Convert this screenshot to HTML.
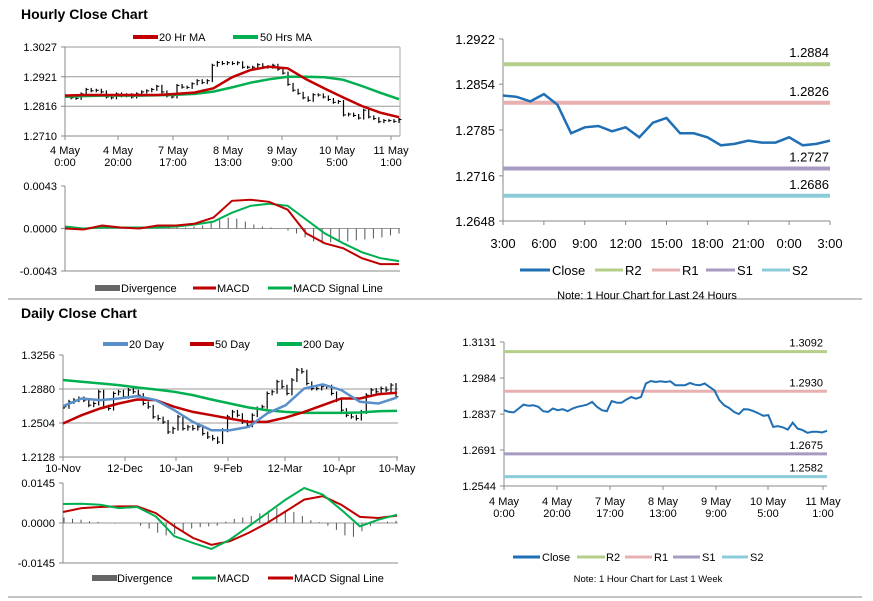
<!DOCTYPE html>
<html><head><meta charset="utf-8"><style>
html,body{margin:0;padding:0;background:#fff;}
svg{display:block;font-family:"Liberation Sans",Arial,sans-serif;}
.t{font-size:11px;fill:#000;}
.r{font-size:13px;fill:#000;}
</style></head><body>
<svg id="c" width="873" height="601" viewBox="0 0 873 601">
<rect x="0" y="0" width="873" height="601" fill="#fff"/>
<line x1="8" y1="299" x2="862" y2="299" stroke="#888" stroke-width="1"/>
<line x1="8" y1="597" x2="862" y2="597" stroke="#888" stroke-width="1"/>
<text x="21" y="19" font-size="14" font-weight="bold">Hourly Close Chart</text>
<text x="21" y="318" font-size="14" font-weight="bold">Daily Close Chart</text>

<g>
<line x1="133" y1="37" x2="158" y2="37" stroke="#c00000" stroke-width="4"/><text class="t" x="159" y="41">20 Hr MA</text>
<line x1="233" y1="37" x2="258" y2="37" stroke="#00b050" stroke-width="4"/><text class="t" x="260" y="41">50 Hrs MA</text>
</g>
<g>
<rect x="95" y="285" width="25" height="6" fill="#666"/><text class="t" x="121" y="292">Divergence</text>
<line x1="193" y1="288" x2="216" y2="288" stroke="#c00000" stroke-width="3"/><text class="t" x="217" y="292">MACD</text>
<line x1="268" y1="288" x2="292" y2="288" stroke="#00b050" stroke-width="3"/><text class="t" x="293" y="292">MACD Signal Line</text>
</g>
<g>
<line x1="103" y1="344" x2="128" y2="344" stroke="#5b8fc9" stroke-width="4"/><text class="t" x="129" y="348">20 Day</text>
<line x1="190" y1="344" x2="214" y2="344" stroke="#c00000" stroke-width="4"/><text class="t" x="215" y="348">50 Day</text>
<line x1="277" y1="344" x2="302" y2="344" stroke="#00b050" stroke-width="4"/><text class="t" x="303" y="348">200 Day</text>
</g>
<g>
<rect x="92" y="575" width="25" height="6" fill="#666"/><text class="t" x="117" y="582">Divergence</text>
<line x1="192" y1="578" x2="216" y2="578" stroke="#00b050" stroke-width="3"/><text class="t" x="217" y="582">MACD</text>
<line x1="268" y1="578" x2="293" y2="578" stroke="#c00000" stroke-width="3"/><text class="t" x="294" y="582">MACD Signal Line</text>
</g>
<g>
<line x1="520" y1="270" x2="550" y2="270" stroke="#1f6fb5" stroke-width="3"/><text class="r" x="552" y="275">Close</text>
<line x1="595" y1="270" x2="623" y2="270" stroke="#b5cf8a" stroke-width="3"/><text class="r" x="625" y="275">R2</text>
<line x1="652" y1="270" x2="680" y2="270" stroke="#e8b0b0" stroke-width="3"/><text class="r" x="682" y="275">R1</text>
<line x1="706" y1="270" x2="735" y2="270" stroke="#a89bc2" stroke-width="3"/><text class="r" x="737" y="275">S1</text>
<line x1="762" y1="270" x2="790" y2="270" stroke="#8ccbd8" stroke-width="3"/><text class="r" x="792" y="275">S2</text>
<text x="647" y="299" font-size="11" text-anchor="middle">Note: 1 Hour Chart for Last 24 Hours</text>
</g>
<g>
<line x1="513" y1="557" x2="540" y2="557" stroke="#1f6fb5" stroke-width="3"/><text class="t" x="542" y="561">Close</text>
<line x1="577" y1="557" x2="605" y2="557" stroke="#b5cf8a" stroke-width="3"/><text class="t" x="606" y="561">R2</text>
<line x1="625" y1="557" x2="652" y2="557" stroke="#e8b0b0" stroke-width="3"/><text class="t" x="654" y="561">R1</text>
<line x1="673" y1="557" x2="700" y2="557" stroke="#a89bc2" stroke-width="3"/><text class="t" x="702" y="561">S1</text>
<line x1="722" y1="557" x2="748" y2="557" stroke="#8ccbd8" stroke-width="3"/><text class="t" x="750" y="561">S2</text>
<text x="648" y="582" font-size="9.5" text-anchor="middle">Note: 1 Hour Chart for  Last 1 Week</text>
</g>
</svg>
<script>
// ---- data ----
const weekClose=[1.2853,1.2846,1.2844,1.2860,1.2876,1.2871,1.2873,1.2867,1.2849,1.2846,1.2860,1.2853,1.2857,1.2849,1.2860,1.2867,1.2871,1.2876,1.2887,1.2867,1.2853,1.2849,1.2890,1.2884,1.2883,1.2896,1.2907,1.2900,1.2907,1.2962,1.2972,1.2968,1.2971,1.2968,1.2971,1.2955,1.2955,1.2955,1.2964,1.2957,1.2955,1.2962,1.2948,1.2934,1.2894,1.2873,1.2862,1.2846,1.2837,1.2857,1.2856,1.2849,1.2840,1.2830,1.2833,1.2785,1.2788,1.2783,1.2774,1.2802,1.2778,1.2772,1.2761,1.2765,1.2765,1.2762,1.2769];
const hrMA20=[1.2854,1.2856,1.2856,1.2856,1.2856,1.2856,1.2860,1.2865,1.2880,1.2919,1.2945,1.2957,1.2951,1.2912,1.2879,1.2847,1.2817,1.2793,1.2777];
const hrMA50=[1.2850,1.2852,1.2854,1.2854,1.2854,1.2855,1.2857,1.2860,1.2868,1.2883,1.2900,1.2912,1.2921,1.2921,1.2919,1.2910,1.2888,1.2864,1.2841];
const hrMACD=[0,-0.0001,0.0003,0.0001,0,0.0003,0.0003,0.0005,0.0011,0.0028,0.0029,0.0027,0.0019,-0.0005,-0.0015,-0.0020,-0.0030,-0.0036,-0.0036];
const hrSignal=[0.0002,0,0.0001,0.0001,0.0001,0.0001,0.0002,0.0004,0.0007,0.0016,0.0023,0.0025,0.0023,0.0009,-0.0005,-0.0015,-0.0024,-0.0030,-0.0033];
const hrDiv=[0.0001,0,0.0001,0,0,0.0001,0.0001,0,0,0,0,0,0.0001,0.0001,0.0001,0.0002,0.0003,0.0006,0.0009,0.0011,0.0010,0.0007,0.0004,0.0002,0.0001,0,-0.0002,-0.0005,-0.0009,-0.0013,-0.0015,-0.0014,-0.0013,-0.0013,-0.0012,-0.0011,-0.0010,-0.0009,-0.0007,-0.0005];
const hrPriceTicks=["1.3027","1.2921","1.2816","1.2710"];
const hrMacdTicks=["0.0043","0.0000","-0.0043"];
const hrXLabels=[["4 May","0:00"],["4 May","20:00"],["7 May","17:00"],["8 May","13:00"],["9 May","9:00"],["10 May","5:00"],["11 May","1:00"]];
const dayClose=[1.2683,1.2738,1.2757,1.2775,1.2757,1.2701,1.2720,1.2849,1.2683,1.2664,1.2831,1.2849,1.2794,1.2868,1.2849,1.2812,1.2720,1.2683,1.2572,1.2553,1.2516,1.2405,1.2442,1.2572,1.2442,1.2461,1.2442,1.2461,1.2387,1.2350,1.2331,1.2294,1.2424,1.2572,1.2627,1.2590,1.2516,1.2479,1.2590,1.2664,1.2683,1.2831,1.2849,1.2960,1.2905,1.2831,1.2979,1.3090,1.3071,1.2942,1.2886,1.2886,1.2905,1.2905,1.2831,1.2757,1.2646,1.2590,1.2572,1.2553,1.2627,1.2812,1.2868,1.2849,1.2886,1.2868,1.2923,1.2794];
const dayMA20=[1.2690,1.2775,1.2757,1.2775,1.2801,1.2757,1.2646,1.2516,1.2424,1.2424,1.2461,1.2609,1.2701,1.2886,1.2931,1.2868,1.2738,1.2720,1.2786];
const dayMA50=[1.2498,1.2590,1.2664,1.2720,1.2764,1.2757,1.2683,1.2627,1.2590,1.2553,1.2516,1.2516,1.2564,1.2627,1.2701,1.2775,1.2775,1.2823,1.2838];
const dayMA200=[1.2979,1.2960,1.2942,1.2923,1.2897,1.2875,1.2849,1.2812,1.2764,1.2720,1.2675,1.2646,1.2627,1.2616,1.2616,1.2616,1.2620,1.2635,1.2638];
const dayMACD=[0.0069,0.0070,0.0066,0.0054,0.0058,0.0024,-0.0048,-0.0072,-0.0094,-0.0060,-0.0012,0.0036,0.0085,0.0127,0.0103,0.0048,-0.0012,0.0012,0.0030];
const daySignal=[0.0040,0.0054,0.0058,0.0060,0.0060,0.0036,-0.0012,-0.0054,-0.0079,-0.0066,-0.0036,0,0.0042,0.0085,0.0097,0.0066,0.0022,0.0018,0.0027];
const dayDiv=[0.0020,0.0015,0.0012,0.0006,0.0004,0.0001,-0.0002,0,0,-0.0010,-0.0020,-0.0035,-0.0045,-0.0040,-0.0030,-0.0020,-0.0015,-0.0012,-0.0010,0.0005,0.0015,0.0020,0.0025,0.0035,0.0045,0.0055,0.0045,0.0040,0.0025,0.0010,0.0003,-0.0010,-0.0025,-0.0045,-0.0050,-0.0030,-0.0010,0.0002,0.0005,0.0008];
const dayPriceTicks=["1.3256","1.2880","1.2504","1.2128"];
const dayMacdTicks=["0.0145","0.0000","-0.0145"];
const dayXLabels=["10-Nov","12-Dec","10-Jan","9-Feb","12-Mar","10-Apr","10-May"];
const dClose=[1.2837,1.2835,1.2828,1.2839,1.2823,1.2780,1.2789,1.2791,1.2783,1.2789,1.2774,1.2796,1.2803,1.2780,1.2780,1.2774,1.2762,1.2764,1.2769,1.2766,1.2766,1.2774,1.2762,1.2764,1.2769];
const dLevels=[1.2884,1.2826,1.2727,1.2686];
const dLevelNames=["r2","r1","s1","s2"];
const dTicks=["1.2922","1.2854","1.2785","1.2716","1.2648"];
const dXLabels=["3:00","6:00","9:00","12:00","15:00","18:00","21:00","0:00","3:00"];
const wLevels=[1.3092,1.2930,1.2675,1.2582];
const wTicks=["1.3131","1.2984","1.2837","1.2691","1.2544"];
const levelColors=["#b5cf8a","#e8b0b0","#a89bc2","#8ccbd8"];

// ---- helpers ----
const svg=document.getElementById('c');
const NS="http://www.w3.org/2000/svg";
function el(tag,attrs,parent){const e=document.createElementNS(NS,tag);for(const k in attrs)e.setAttribute(k,attrs[k]);(parent||svg).appendChild(e);return e;}
function lin(d0,d1,r0,r1){return v=>r0+(v-d0)*(r1-r0)/(d1-d0);}
function path(arr,x,y){return arr.map((v,i)=>(i?'L':'M')+x(i).toFixed(1)+','+y(v).toFixed(1)).join('');}
function txt(x,y,s,anchor,cls,parent){const t=el('text',{x:x,y:y,'text-anchor':anchor||'start','class':cls||'t'},parent);t.textContent=s;return t;}

// ===== Hourly price panel =====
(function(){
 const g=el('g',{});
 
 
 const L=65,R=400,y=lin(1.2710,1.3027,136,47);
 hrPriceTicks.forEach((t,i)=>{const v=parseFloat(t);
  const ln=el('line',{x1:L,x2:R,y1:y(v),y2:y(v),stroke:i==3?'#888':'#999','stroke-width':1},g);
  
  
  el('line',{x1:L-4,x2:L,y1:y(v),y2:y(v),stroke:'#888'},g);
  const tx=txt(L-8,y(v)+4,t,'end','t',g);
  
  });
 el('line',{x1:L,x2:L,y1:47,y2:136,stroke:'#888'},g);
 el('line',{x1:R,x2:R,y1:47,y2:136,stroke:'#aaa'},g);
 const tx=[65,118,173,228,282,337,391];
 hrXLabels.forEach((l,i)=>{el('line',{x1:tx[i],x2:tx[i],y1:136,y2:140,stroke:'#888'},g);
  const a=txt(tx[i],154,l[0],'middle','t',g);
  txt(tx[i],166,l[1],'middle','t',g);});
 const x=lin(0,weekClose.length-1,66,399);
 weekClose.forEach((v,i)=>{const p=i?weekClose[i-1]:v;const b=el('line',{x1:x(i),x2:x(i),y1:y(Math.max(p,v))-1.5,y2:y(Math.min(p,v))+1.5,stroke:'#000','stroke-width':1.2},g);
  
  
  el('line',{x1:x(i),x2:x(i)+2.5,y1:y(v),y2:y(v),stroke:'#000','stroke-width':1},g);});
 const xm=lin(0,hrMA20.length-1,65,399);
 const p1=el('path',{d:path(hrMA50,xm,y),fill:'none',stroke:'#00b050','stroke-width':2.5},g);
 
 const p2=el('path',{d:path(hrMA20,xm,y),fill:'none',stroke:'#c00000','stroke-width':2.5},g);
 
})();

// ===== Hourly MACD =====
(function(){
 const g=el('g',{});
 
 
 const L=65,R=400,y=lin(-0.0043,0.0043,271,186);
 hrMacdTicks.forEach(t=>{const v=parseFloat(t);el('line',{x1:L-4,x2:L,y1:y(v),y2:y(v),stroke:'#888'},g);
  const a=txt(L-8,y(v)+4,t,'end','t',g);});
 el('line',{x1:L,x2:L,y1:186,y2:271,stroke:'#888'},g);
 el('line',{x1:L,x2:R,y1:271,y2:271,stroke:'#888'},g);
 el('line',{x1:L,x2:R,y1:y(0),y2:y(0),stroke:'#999'},g);
 const xd=lin(0,hrDiv.length-1,66,399);
 hrDiv.forEach((v,i)=>{const b=el('line',{x1:xd(i),x2:xd(i),y1:y(0),y2:y(v),stroke:'#555','stroke-width':1},g);
  });
 const x=lin(0,hrMACD.length-1,65,399);
 const a=el('path',{d:path(hrSignal,x,y),fill:'none',stroke:'#00b050','stroke-width':2},g);
 
 const b=el('path',{d:path(hrMACD,x,y),fill:'none',stroke:'#c00000','stroke-width':2},g);
 
})();

// ===== Daily price panel =====
(function(){
 const g=el('g',{});
 
 
 const L=63,R=398,y=lin(1.2128,1.3256,457,355);
 dayPriceTicks.forEach((t,i)=>{const v=parseFloat(t);
  if(i>0&&i<3){const ln=el('line',{x1:L,x2:R,y1:y(v),y2:y(v),stroke:'#999'},g);}
  el('line',{x1:L-4,x2:L,y1:y(v),y2:y(v),stroke:'#888'},g);
  const a=txt(L-8,y(v)+4,t,'end','t',g);});
 el('line',{x1:L,x2:L,y1:355,y2:457,stroke:'#888'},g);
 el('line',{x1:L,x2:R,y1:457,y2:457,stroke:'#888'},g);
 const tx=[63,125,176,228,285,339,397];
 dayXLabels.forEach((l,i)=>{el('line',{x1:tx[i],x2:tx[i],y1:457,y2:461,stroke:'#888'},g);
  const a=txt(tx[i],472,l,'middle','t',g);});
 const x=lin(0,dayClose.length-1,64,396);
 dayClose.forEach((v,i)=>{const p=i?dayClose[i-1]:v;const b=el('line',{x1:x(i),x2:x(i),y1:y(Math.max(p,v))-2,y2:y(Math.min(p,v))+2,stroke:'#000','stroke-width':1.2},g);
  
  el('line',{x1:x(i),x2:x(i)+2.5,y1:y(v),y2:y(v),stroke:'#000'},g);});
 const xm=lin(0,dayMA20.length-1,63,397);
 const c=el('path',{d:path(dayMA200,xm,y),fill:'none',stroke:'#00b050','stroke-width':2.5},g);
 
 const b=el('path',{d:path(dayMA50,xm,y),fill:'none',stroke:'#c00000','stroke-width':2.5},g);
 
 const a=el('path',{d:path(dayMA20,xm,y),fill:'none',stroke:'#5b8fc9','stroke-width':2.5},g);
 
})();

// ===== Daily MACD =====
(function(){
 const g=el('g',{});
 
 
 const L=63,R=398,y=lin(-0.0145,0.0145,563,483);
 dayMacdTicks.forEach(t=>{const v=parseFloat(t);el('line',{x1:L-4,x2:L,y1:y(v),y2:y(v),stroke:'#888'},g);
  const a=txt(L-8,y(v)+4,t,'end','t',g);});
 el('line',{x1:L,x2:L,y1:483,y2:563,stroke:'#888'},g);
 el('line',{x1:L,x2:R,y1:563,y2:563,stroke:'#888'},g);
 el('line',{x1:L,x2:R,y1:y(0),y2:y(0),stroke:'#999'},g);
 const xd=lin(0,dayDiv.length-1,64,396);
 dayDiv.forEach((v,i)=>{const b=el('line',{x1:xd(i),x2:xd(i),y1:y(0),y2:y(v),stroke:'#555'},g);
  });
 const x=lin(0,dayMACD.length-1,63,397);
 const b=el('path',{d:path(daySignal,x,y),fill:'none',stroke:'#c00000','stroke-width':2},g);
 
 const a=el('path',{d:path(dayMACD,x,y),fill:'none',stroke:'#00b050','stroke-width':2},g);
 
})();

// ===== 24h levels chart =====
(function(){
 const g=el('g',{});
 
 
 const L=503,R=830,y=lin(1.2648,1.2922,221,39);
 el('line',{x1:L,x2:L,y1:39,y2:221,stroke:'#888'},g);
 el('line',{x1:L,x2:R,y1:221,y2:221,stroke:'#888'},g);
 dTicks.forEach(t=>{const v=parseFloat(t);el('line',{x1:L-4,x2:L,y1:y(v),y2:y(v),stroke:'#888'},g);
  const a=txt(L-8,y(v)+5,t,'end','r',g);});
 const xt=lin(0,dXLabels.length-1,L,R);
 dXLabels.forEach((l,i)=>{el('line',{x1:xt(i),x2:xt(i),y1:221,y2:225,stroke:'#888'},g);
  const a=txt(xt(i),248,l,'middle','r',g);});
 dLevels.forEach((v,i)=>{const ln=el('line',{x1:L,x2:R,y1:y(v),y2:y(v),stroke:levelColors[i],'stroke-width':4},g);
  
  const a=txt(R-1,y(v)-7,v.toFixed(4),'end','r',g);});
 const x=lin(0,dClose.length-1,L,R);
 const p=el('path',{d:path(dClose,x,y),fill:'none',stroke:'#1f6fb5','stroke-width':2.5},g);
 
})();

// ===== 1 week levels chart =====
(function(){
 const g=el('g',{});
 
 
 const L=504,R=827,y=lin(1.2544,1.3131,486,342);
 el('line',{x1:L,x2:L,y1:342,y2:486,stroke:'#888'},g);
 el('line',{x1:L,x2:R,y1:486,y2:486,stroke:'#888'},g);
 wTicks.forEach(t=>{const v=parseFloat(t);el('line',{x1:L-4,x2:L,y1:y(v),y2:y(v),stroke:'#888'},g);
  const a=txt(L-8,y(v)+4,t,'end','t',g);});
 const tx=[504,557,610,663,716,768,823];
 hrXLabels.forEach((l,i)=>{el('line',{x1:tx[i],x2:tx[i],y1:486,y2:490,stroke:'#888'},g);
  const a=txt(tx[i],505,l[0],'middle','t',g);
  txt(tx[i],517,l[1],'middle','t',g);});
 wLevels.forEach((v,i)=>{const ln=el('line',{x1:L,x2:R,y1:y(v),y2:y(v),stroke:levelColors[i],'stroke-width':3},g);
  
  const a=txt(R-4,y(v)-5,v.toFixed(4),'end','t',g);});
 const x=lin(0,weekClose.length-1,L,R);
 const p=el('path',{d:path(weekClose,x,y),fill:'none',stroke:'#1f6fb5','stroke-width':2},g);
 
})();
</script>
</body></html>
